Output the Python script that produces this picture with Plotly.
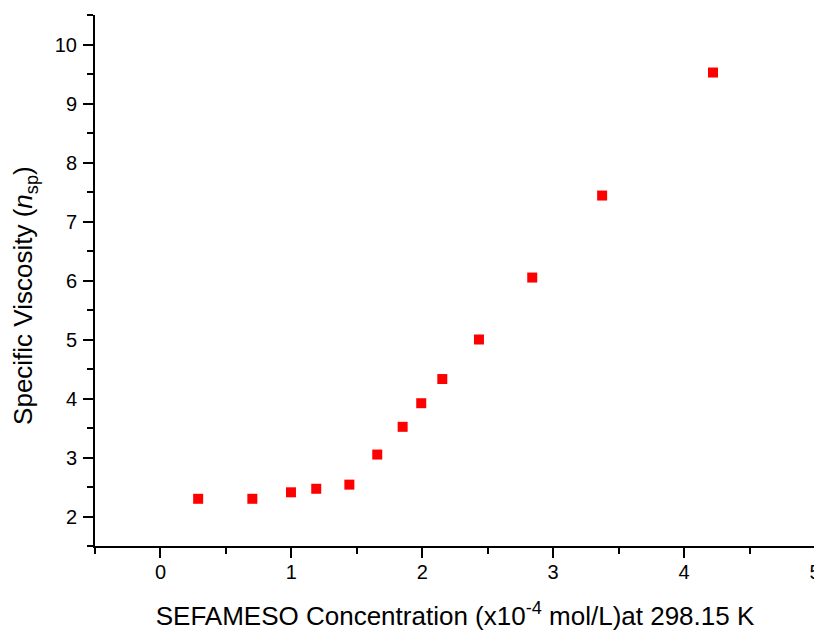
import plotly.graph_objects as go

concentration = [0.288, 0.702, 0.997, 1.19, 1.443, 1.656, 1.85, 1.992, 2.153, 2.433, 2.84, 3.374, 4.221]
viscosity = [2.30, 2.30, 2.41, 2.47, 2.54, 3.05, 3.52, 3.92, 4.33, 5.00, 6.05, 7.44, 9.525]

x_title = "SEFAMESO Concentration (x10<sup>-4</sup> mol/L)at 298.15 K"
y_title = "Specific Viscosity (<i>n</i><sub>sp</sub>)"

fig = go.Figure()
fig.add_trace(go.Scatter(
    x=concentration, y=viscosity, mode="markers",
    marker=dict(symbol="square", size=10, color="#ff0000", line=dict(width=0)),
    showlegend=False,
))

font_family = "Liberation Sans, Arial, sans-serif"
axis_common = dict(
    showline=True, linecolor="black", linewidth=2,
    ticks="outside", ticklen=10, tickwidth=2, tickcolor="black",
    showgrid=False, zeroline=False, mirror=False, automargin=False,
    tickfont=dict(family=font_family, size=20, color="black"),
)

# the page body adds an 8px margin, so the figure is sized/offset to compensate
fig.update_layout(
    width=814, height=623,
    margin=dict(l=87, r=7, t=7, b=85),
    plot_bgcolor="white", paper_bgcolor="white",
    font=dict(family=font_family, color="black"),
    xaxis=dict(
        range=[-0.5, 5], dtick=1, tick0=0, ticklabelstandoff=-3,
        minor=dict(dtick=0.5, tick0=0, ticklen=6, tickwidth=2, tickcolor="black", ticks="outside", showgrid=False),
        title=dict(text=x_title, font=dict(family=font_family, size=26, color="black"), standoff=34),
        **axis_common,
    ),
    yaxis=dict(
        range=[1.5, 10.5], dtick=1, tick0=0, ticklabelstandoff=2,
        minor=dict(dtick=0.5, tick0=0, ticklen=6, tickwidth=2, tickcolor="black", ticks="outside", showgrid=False),
        **axis_common,
    ),
    annotations=[dict(
        text=y_title, textangle=-90, showarrow=False,
        xref="paper", yref="paper", x=-0.0972, y=0.471,
        xanchor="center", yanchor="middle",
        font=dict(family=font_family, size=26, color="black"),
    )],
)

fig.write_html("out.html")
